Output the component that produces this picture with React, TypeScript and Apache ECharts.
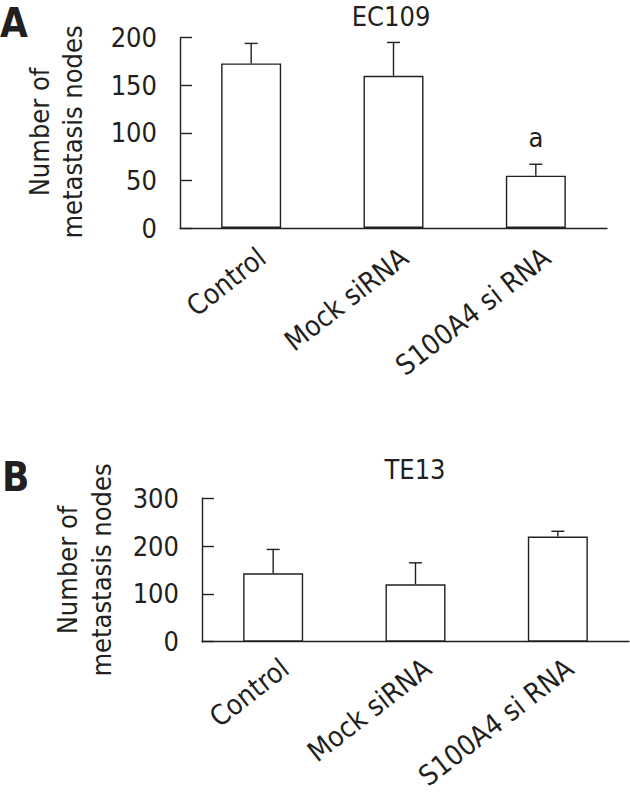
import React, { useEffect, useRef } from "react";
import * as echarts from "echarts";

const categories = ["Control", "Mock siRNA", "S100A4 si RNA"];

const ec109Title = "EC109";
const ec109Values = [173, 160, 55];
const ec109Errors = [21, 35, 12];
const ec109Marks = ["", "", "a"];
const ec109Max = 200;
const ec109Interval = 50;

const te13Title = "TE13";
const te13Values = [143, 120, 220];
const te13Errors = [50, 45, 11];
const te13Marks = ["", "", ""];
const te13Max = 300;
const te13Interval = 100;

const yNameLines = ["Number of", "metastasis nodes"];
const panelLetters = ["A", "B"];

const FONT = "'DejaVu Sans Condensed', 'DejaVu Sans', sans-serif";
const INK = "#231f20";
const LABEL_ANGLE = 38;

function errorSeries(gridIdx: number, values: number[], errors: number[], marks: string[]) {
  return {
    type: "custom",
    xAxisIndex: gridIdx,
    yAxisIndex: gridIdx,
    z: 5,
    silent: true,
    data: values.map((v, i) => [i, v, errors[i]]),
    renderItem: (params: any, api: any) => {
      const i = api.value(0);
      const v = api.value(1);
      const e = api.value(2);
      const b = api.coord([i, v]);
      const t = api.coord([i, v + e]);
      const children: any[] = [
        { type: "line", shape: { x1: b[0], y1: b[1], x2: t[0], y2: t[1] }, style: { stroke: INK, lineWidth: 1.4 } },
        { type: "line", shape: { x1: t[0] - 6.5, y1: t[1], x2: t[0] + 6.5, y2: t[1] }, style: { stroke: INK, lineWidth: 1.4 } },
      ];
      const m = marks[params.dataIndex];
      if (m) {
        children.push({
          type: "text",
          x: t[0],
          y: t[1] - 27,
          style: { text: m, font: `27px ${FONT}`, fill: INK, align: "center", verticalAlign: "middle" },
        });
      }
      return { type: "group", children };
    },
  };
}

function categoryLabelSeries(gridIdx: number, dx: number, dy: number) {
  return {
    type: "custom",
    xAxisIndex: gridIdx,
    yAxisIndex: gridIdx,
    silent: true,
    z: 6,
    data: categories.map((_, i) => [i, 0]),
    renderItem: (params: any, api: any) => {
      const p = api.coord([api.value(0), 0]);
      return {
        type: "text",
        x: p[0] + dx,
        y: p[1] + dy,
        rotation: (LABEL_ANGLE * Math.PI) / 180,
        style: {
          text: categories[params.dataIndex],
          font: `28px ${FONT}`,
          fill: INK,
          align: "right",
          verticalAlign: "middle",
        },
      };
    },
  };
}

function barSeries(gridIdx: number, values: number[]) {
  return {
    type: "bar",
    xAxisIndex: gridIdx,
    yAxisIndex: gridIdx,
    barWidth: 60,
    data: values,
    itemStyle: { color: "#ffffff", borderColor: INK, borderWidth: 1.4 },
    z: 3,
  };
}

function xAxis(gridIdx: number) {
  return {
    type: "category",
    gridIndex: gridIdx,
    data: categories,
    axisLine: { lineStyle: { color: INK, width: 1.4 } },
    axisTick: { inside: true, length: 11, lineStyle: { color: INK, width: 1.4 } },
    axisLabel: { show: false },
  };
}

function yAxis(gridIdx: number, max: number, interval: number) {
  return {
    type: "value",
    gridIndex: gridIdx,
    min: 0,
    max,
    interval,
    axisLine: { show: true, lineStyle: { color: INK, width: 1.4 } },
    axisTick: { show: true, inside: true, length: 12, lineStyle: { color: INK, width: 1.4 } },
    axisLabel: { fontSize: 27, fontFamily: FONT, color: INK, margin: 23 },
    splitLine: { show: false },
  };
}

function yName(x1: number, x2: number, y: number) {
  return yNameLines.map((t, k) => ({
    type: "text",
    x: k === 0 ? x1 : x2,
    y,
    rotation: Math.PI / 2,
    style: { text: t, font: `27px ${FONT}`, fill: INK, align: "center", verticalAlign: "middle" },
  }));
}

export default function App() {
  const ref = useRef<HTMLDivElement>(null);
  useEffect(() => {
    if (!ref.current) return;
    const chart = echarts.init(ref.current, undefined, { renderer: "svg" });
    chart.setOption({
      animation: false,
      backgroundColor: "#ffffff",
      grid: [
        { left: 180, top: 37.7, width: 427, height: 190.3 },
        { left: 202, top: 498.3, width: 427, height: 143.4 },
      ],
      xAxis: [xAxis(0), xAxis(1)],
      yAxis: [yAxis(0, ec109Max, ec109Interval), yAxis(1, te13Max, te13Interval)],
      series: [
        barSeries(0, ec109Values),
        errorSeries(0, ec109Values, ec109Errors, ec109Marks),
        categoryLabelSeries(0, 11, 26),
        barSeries(1, te13Values),
        errorSeries(1, te13Values, te13Errors, te13Marks),
        categoryLabelSeries(1, 12, 23),
      ],
      graphic: [
        { type: "text", x: 0, y: 22.5, style: { text: panelLetters[0], font: `bold 40px ${FONT}`, fill: INK, align: "left", verticalAlign: "middle" } },
        { type: "text", x: 2, y: 477, style: { text: panelLetters[1], font: `bold 40px ${FONT}`, fill: INK, align: "left", verticalAlign: "middle" } },
        { type: "text", x: 391, y: 16.5, style: { text: ec109Title, font: `27px ${FONT}`, fill: INK, align: "center", verticalAlign: "middle" } },
        { type: "text", x: 415, y: 469, style: { text: te13Title, font: `27px ${FONT}`, fill: INK, align: "center", verticalAlign: "middle" } },
        ...yName(39, 72, 132),
        ...yName(67, 101, 570),
      ],
    });
    return () => chart.dispose();
  }, []);
  return <div ref={ref} style={{ position: "absolute", left: 0, top: 0, width: 630, height: 806 }} />;
}
